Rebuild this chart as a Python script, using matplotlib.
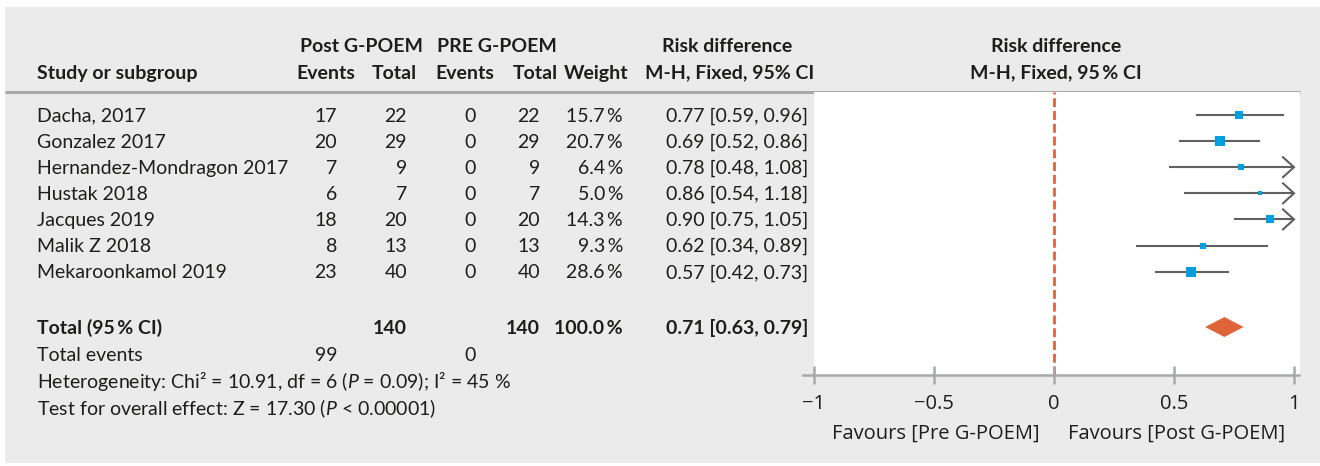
import matplotlib
matplotlib.use('Agg')
import matplotlib.pyplot as plt
from matplotlib.patches import Rectangle, Polygon
import numpy as np

plt.rcParams['font.family'] = ['Lato', 'DejaVu Sans']
plt.rcParams['mathtext.fontset'] = 'custom'
plt.rcParams['mathtext.rm'] = 'Lato'
plt.rcParams['mathtext.it'] = 'Lato:italic'

# data
studies = ['Dacha, 2017', 'Gonzalez 2017', 'Hernandez-Mondragon 2017', 'Hustak 2018',
           'Jacques 2019', 'Malik Z 2018', 'Mekaroonkamol 2019']
ev_post = [17, 20, 7, 6, 18, 8, 23]
tot_post = [22, 29, 9, 7, 20, 13, 40]
ev_pre = [0, 0, 0, 0, 0, 0, 0]
tot_pre = [22, 29, 9, 7, 20, 13, 40]
weights = [15.7, 20.7, 6.4, 5.0, 14.3, 9.3, 28.6]
rd = [0.77, 0.69, 0.78, 0.86, 0.90, 0.62, 0.57]
ci_lo = [0.59, 0.52, 0.48, 0.54, 0.75, 0.34, 0.42]
ci_hi = [0.96, 0.86, 1.08, 1.18, 1.05, 0.89, 0.73]

pooled = 0.71
pooled_lo = 0.63
pooled_hi = 0.79
total_events = [99, 0]
heterogeneity = 'Heterogeneity: Chi² = 10.91, df = 6 ($\\mathit{P}$ = 0.09); I² = 45 %'
overall = 'Test for overall effect: Z = 17.30 ($\\mathit{P}$ < 0.00001)'

xticks = [-1, -0.5, 0, 0.5, 1]
xtick_labels = ['\u22121', '\u22120.5', '0', '0.5', '1']

W, H = 1320, 466
dark = '#1d1d1b'
grey_bg = '#eaebea'
rule = '#a8a9ab'
blue = '#009fe0'
orange = '#e0643a'
line_c = '#5f6062'
FS = 14.0
FS_AX = 14.5
AX_FONT = ['Open Sans', 'DejaVu Sans']

fig = plt.figure(figsize=(13.2, 4.66), dpi=100)
fig.patch.set_facecolor('white')

# whole-figure axes in pixel units for the table part
bg = fig.add_axes([0, 0, 1, 1])
bg.set_xlim(0, W)
bg.set_ylim(H, 0)
bg.axis('off')
bg.add_patch(Rectangle((5, 7), W - 5, 456, color=grey_bg, lw=0))
bg.plot([5, 1300], [92, 92], color=rule, lw=2.2, solid_capstyle='butt')


def txt(x, y, s, ha='left', bold=False):
    bg.text(x, y + 6.7, s, ha=ha, va='baseline', fontsize=FS, color=dark,
            fontweight='bold' if bold else 'normal')


# header
txt(361, 45, 'Post G-POEM', 'center', True)
txt(497, 45, 'PRE G-POEM', 'center', True)
txt(727, 45, 'Risk difference', 'center', True)
txt(1056, 45, 'Risk difference', 'center', True)
txt(37, 72, 'Study or subgroup', 'left', True)
txt(326, 72, 'Events', 'center', True)
txt(417, 72, 'Total', 'right', True)
txt(465, 72, 'Events', 'center', True)
txt(558, 72, 'Total', 'right', True)
txt(628, 72, 'Weight', 'right', True)
txt(730, 72, 'M-H, Fixed, 95% CI', 'center', True)
txt(1056, 72, 'M-H, Fixed, 95\u2009% CI', 'center', True)

row_y = [115 + 26.1 * i for i in range(len(studies))]
for i, y in enumerate(row_y):
    txt(37, y, studies[i])
    txt(337, y, str(ev_post[i]), 'right')
    txt(407, y, str(tot_post[i]), 'right')
    txt(476, y, str(ev_pre[i]), 'right')
    txt(540, y, str(tot_pre[i]), 'right')
    txt(623, y, f'{weights[i]:.1f}\u2009%', 'right')
    txt(808, y, f'{rd[i]:.2f} [{ci_lo[i]:.2f}, {ci_hi[i]:.2f}]', 'right')

y_tot = 327
txt(37, y_tot, 'Total (95\u2009% CI)', 'left', True)
txt(407, y_tot, str(sum(tot_post)), 'right', True)
txt(540, y_tot, str(sum(tot_pre)), 'right', True)
txt(623, y_tot, f'{sum(weights):.1f}\u2009%', 'right', True)
txt(808, y_tot, f'{pooled:.2f} [{pooled_lo:.2f}, {pooled_hi:.2f}]', 'right', True)
txt(37, 354, 'Total events')
txt(337, 354, str(total_events[0]), 'right')
txt(476, 354, str(total_events[1]), 'right')
txt(37, 381.5, heterogeneity)
txt(37, 408, overall)

# forest plot
ax = fig.add_axes([814 / W, 1 - 375 / H, 486 / W, (375 - 92) / H])
ax.set_xlim(-1, 1 + 6 / 240)
ax.set_ylim(375, 92)
ax.set_facecolor('white')
for s in ['left', 'top', 'right']:
    ax.spines[s].set_visible(False)
ax.spines['bottom'].set_color(rule)
ax.spines['bottom'].set_linewidth(1.8)
ax.spines['bottom'].set_bounds(-1.046, 1.02)
ax.set_yticks([])
ax.set_xticks(xticks, xtick_labels, family=AX_FONT)
ax.tick_params(axis='x', direction='inout', length=13, width=1.8, color=rule,
               labelsize=FS_AX, labelcolor=dark, pad=7.5)

ax.axvline(0, color=orange, lw=2, dashes=(3.2, 1.4), zorder=1)

px = 1 / 240  # one pixel in x units
for i, y in enumerate(row_y):
    hi = min(ci_hi[i], 1)
    ax.plot([ci_lo[i], hi], [y, y], color=line_c, lw=1.5, solid_capstyle='butt', zorder=2)
    if ci_hi[i] > 1:
        ax.plot([1 - 11 * px, 1, 1 - 11 * px], [y - 10, y, y + 10], color=line_c, lw=1.5,
                solid_joinstyle='miter', zorder=2)
    side = 2.0 * np.sqrt(weights[i])
    ax.plot(rd[i], y, marker='s', ms=side * 0.72, color=blue, mew=0, zorder=3)

ax.add_patch(Polygon([(pooled_lo, y_tot), (pooled, y_tot - 10), (pooled_hi, y_tot),
                      (pooled, y_tot + 10)], closed=True, color=orange, lw=0, zorder=3))

ax.text(-0.06, 438.5, 'Favours [Pre G-POEM]', ha='right', va='baseline',
        fontsize=FS_AX, color=dark, family=AX_FONT)
ax.text(0.06, 438.5, 'Favours [Post G-POEM]', ha='left', va='baseline',
        fontsize=FS_AX, color=dark, family=AX_FONT)

fig.savefig('out.png', dpi=100, facecolor='white')
